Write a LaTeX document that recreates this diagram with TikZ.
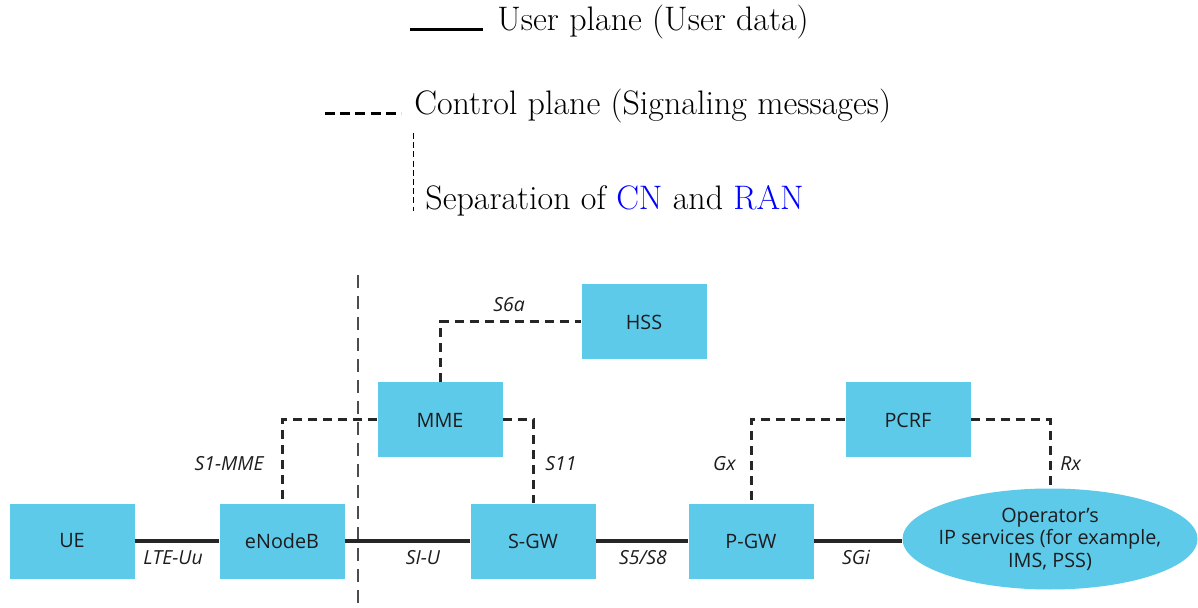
\documentclass[tikz,border=0pt]{standalone}
\usepackage{fontspec}
\usetikzlibrary{shapes.geometric}
\newfontfamily\boxfont{Open Sans}
\definecolor{boxblue}{RGB}{94,202,234}
\definecolor{boxtext}{RGB}{30,28,30}
\tikzset{
  entity/.style={rectangle, fill=boxblue, draw=none, minimum width=62.5pt, minimum height=37.5pt,
    inner sep=0pt, font=\boxfont\fontsize{9.9}{11.25}\selectfont, text=boxtext},
  cloud/.style={ellipse, fill=boxblue, draw=none, minimum width=147.5pt, minimum height=50.5pt,
    inner sep=0pt},
  cloudtext/.style={inner sep=0pt, align=center, font=\boxfont\fontsize{9.9}{11.25}\selectfont, text=boxtext},
  iflabel/.style={inner sep=0pt, font=\boxfont\itshape\fontsize{9.7}{11}\selectfont, text=boxtext},
  userline/.style={line width=1.6pt, draw=black!85},
  ctrlline/.style={line width=1.5pt, draw=black!85, dash pattern=on 4.5pt off 3pt},
  legtext/.style={inner sep=0pt, font=\fontsize{17}{20}\selectfont},
  splitline/.style={line width=0.7pt, draw=black!70, dash pattern=on 6.5pt off 4pt},
}
\begin{document}
\begin{tikzpicture}[x=0.5pt,y=-0.5pt]
\useasboundingbox (0,0) rectangle (1198,608);

% legend
\coordinate (ua) at (410,30);
\coordinate (ub) at (483,30);
\draw[line width=1.5pt] (ua) -- (ub);
\node[legtext, anchor=base west] (ut) at (497,31) {User plane (User data)};
\coordinate (ca) at (325,114);
\coordinate (cb) at (401,114);
\draw[line width=1.5pt, dash pattern=on 5pt off 2.6pt] (ca) -- (cb);
\node[legtext, anchor=base west] (ct) at (414,115) {Control plane (Signaling messages)};
\coordinate (sa) at (413,133);
\coordinate (sb) at (413,211);
\draw[line width=0.35pt, dash pattern=on 3pt off 1.6pt] (sa) -- (sb);
\node[legtext, anchor=base west] (st) at (425,210) {Separation of \textcolor{blue}{CN} and \textcolor{blue}{RAN}};

% CN / RAN boundary
\coordinate (da) at (358,275);
\coordinate (db) at (358,608);
\draw[splitline] (da) -- (db);

% network elements
\node[entity] (ue)   at (72,541)  {UE};
\node[entity] (enb)  at (282,541) {eNodeB};
\node[entity] (sgw)  at (533,541) {S-GW};
\node[entity] (pgw)  at (751,541) {P-GW};
\node[entity] (mme)  at (440,420) {MME};
\node[entity] (hss)  at (644,322) {HSS};
\node[entity] (pcrf) at (908,420) {PCRF};
\node[cloud]  (ops)  at (1050,539) {};
\node[cloudtext] (opstext) at (ops.center) {Operator’s\\IP services (for example,\\IMS, PSS)};

% user plane
\draw[userline] (ue) -- (enb);
\draw[userline] (enb) -- (sgw);
\draw[userline] (sgw) -- (pgw);
\draw[userline] (pgw.east) -- (pgw.east -| ops.west);

% control plane
\draw[ctrlline] (mme.north) |- (hss.west);
\draw[ctrlline] (mme.west) -| (enb.north);
\draw[ctrlline] (mme.east) -| (sgw.north);
\draw[ctrlline] (pcrf.west) -| (pgw.north);
\draw[ctrlline] (pcrf.east) -| (ops.north);

% interface names
\node[iflabel, anchor=base] (l6a) at (509,312) {S6a};
\node[iflabel, anchor=base east] (ls1) at (264,471) {S1-MME};
\node[iflabel, anchor=base west] (l11) at (545,471) {S11};
\node[iflabel, anchor=base east] (lgx) at (736,471) {Gx};
\node[iflabel, anchor=base west] (lrx) at (1060,471) {Rx};
\node[iflabel, anchor=base] (luu) at (173,564) {LTE-Uu};
\node[iflabel, anchor=base] (lsu) at (423,564) {SI-U};
\node[iflabel, anchor=base] (l58) at (643,564) {S5/S8};
\node[iflabel, anchor=base] (lsg) at (856,564) {SGi};
\end{tikzpicture}
\end{document}
